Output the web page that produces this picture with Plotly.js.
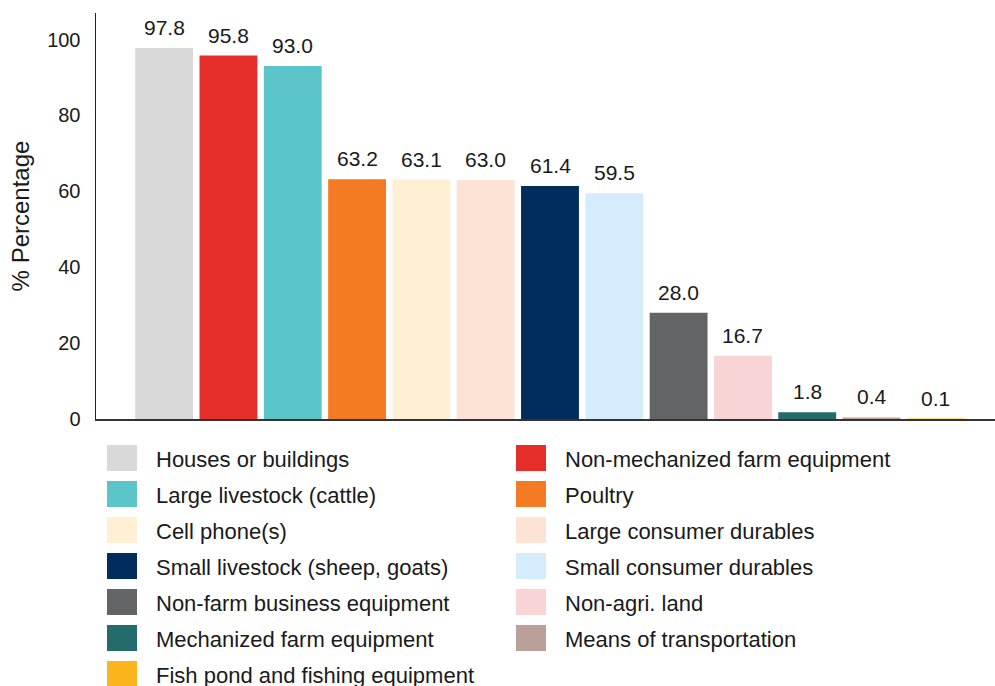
<!DOCTYPE html>
<html>
<head>
<meta charset="utf-8">
<script src="https://cdn.plot.ly/plotly-3.0.1.min.js"></script>
<style>html,body{margin:0;padding:0;background:#fff;}#chart{width:995px;height:686px;}</style>
</head>
<body>
<div id="chart"></div>
<script>
const categories = [
  "Houses or buildings",
  "Non-mechanized farm equipment",
  "Large livestock (cattle)",
  "Poultry",
  "Cell phone(s)",
  "Large consumer durables",
  "Small livestock (sheep, goats)",
  "Small consumer durables",
  "Non-farm business equipment",
  "Non-agri. land",
  "Mechanized farm equipment",
  "Means of transportation",
  "Fish pond and fishing equipment"
];
const values = [97.8, 95.8, 93.0, 63.2, 63.1, 63.0, 61.4, 59.5, 28.0, 16.7, 1.8, 0.4, 0.1];
const colors = [
  "#d9d9d9", "#e52d2a", "#5bc5c9", "#f47a24", "#fff0d3", "#fde3d6", "#002d5b",
  "#d5ecfc", "#636466", "#f9d4d5", "#246b6b", "#bb9f99", "#fbb41c"
];
const yTicks = [0, 20, 40, 60, 80, 100];

const FONT = "Liberation Sans, Arial, sans-serif";
const TXT = "#1a1a1a";

const traces = categories.map((c, i) => ({
  type: "bar",
  name: c,
  x: [c],
  y: [values[i]],
  width: 0.9,
  marker: { color: colors[i], line: { width: 0 } },
  hoverinfo: "none"
}));

const annotations = categories.map((c, i) => ({
  x: c,
  y: values[i],
  xref: "x",
  yref: "y",
  text: values[i].toFixed(1),
  showarrow: false,
  yanchor: "bottom",
  yshift: 7,
  font: { family: FONT, size: 21, color: TXT }
}));

const layout = {
  width: 995,
  height: 686,
  margin: { l: 96, r: 0, t: 13, b: 267, autoexpand: false },
  paper_bgcolor: "#ffffff",
  plot_bgcolor: "#ffffff",
  barmode: "overlay",
  showlegend: true,
  font: { family: FONT, color: TXT },
  xaxis: {
    type: "category",
    categoryorder: "array",
    categoryarray: categories,
    range: [-1.06, 12.92],
    showticklabels: false,
    ticks: "",
    showgrid: false,
    zeroline: false,
    showline: true,
    linecolor: "#333333",
    linewidth: 1.5
  },
  yaxis: {
    range: [0, 107],
    tickvals: yTicks,
    ticktext: yTicks.map(String),
    ticks: "",
    ticklabelstandoff: 10,
    showgrid: false,
    zeroline: false,
    showline: true,
    linecolor: "#222222",
    linewidth: 1.5,
    tickfont: { family: FONT, size: 20, color: TXT },
    title: { text: "% Percentage", standoff: 10, font: { family: FONT, size: 24, color: TXT } }
  },
  legend: {
    orientation: "h",
    x: 0, xanchor: "left",
    y: -0.03, yanchor: "top",
    itemwidth: 58,
    entrywidth: 400,
    entrywidthmode: "pixels",
    font: { family: FONT, size: 22, color: TXT },
    bgcolor: "rgba(0,0,0,0)",
    traceorder: "normal",
    itemclick: false,
    itemdoubleclick: false
  },
  annotations: annotations
};

Plotly.newPlot("chart", traces, layout, { staticPlot: true, displayModeBar: false }).then(function (gd) {
  // Fine-tune legend: larger swatches, two columns, 36px rows
  const leg = gd.querySelector(".legend");
  if (!leg) return;
  const m = /translate\(\s*([-\d.]+)[ ,]+([-\d.]+)\)/.exec(leg.getAttribute("transform") || "");
  const lx = m ? parseFloat(m[1]) : 0;
  const ly = m ? parseFloat(m[2]) : 0;
  const scroll = leg.querySelector(".scrollbox");
  if (scroll) scroll.removeAttribute("clip-path");
  leg.removeAttribute("clip-path");
  const items = leg.querySelectorAll(".traces");
  items.forEach(function (el, i) {
    const col = i % 2, row = Math.floor(i / 2);
    const ax = 88 + col * 409;
    const ay = 458 + row * 36;
    el.setAttribute("transform", "translate(" + (ax - lx) + "," + (ay - ly) + ")");
    el.querySelectorAll(".legendpoints path").forEach(function (p) {
      p.setAttribute("transform", "translate(34,0) scale(2.5,2.17)");
      p.style.strokeWidth = "0";
    });
  });
});
</script>
</body>
</html>
